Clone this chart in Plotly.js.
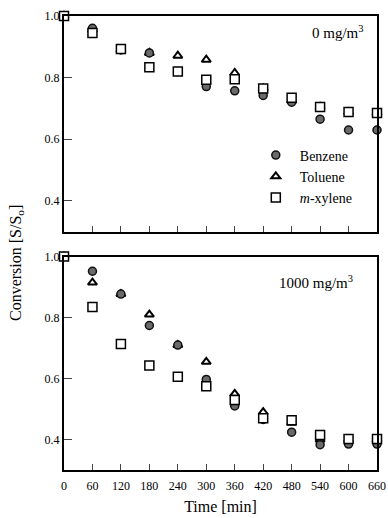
<!DOCTYPE html>
<html><head><meta charset="utf-8">
<script src="https://cdn.plot.ly/plotly-3.0.1.min.js"></script>
<style>body{margin:0;background:#fff}#c{width:388px;height:518px}</style>
</head><body><div id="c"></div>
<script>
const time = [0, 60, 120, 180, 240, 300, 360, 420, 480, 540, 600, 660];
// 0 mg/m3 panel
const benzene0 = [1.0, 0.96, 0.89, 0.88, 0.82, 0.771, 0.757, 0.742, 0.72, 0.665, 0.63, 0.63];
const toluene0 = [1.0, 0.955, 0.89, 0.88, 0.871, 0.858, 0.815, 0.765, 0.725, 0.705, 0.688, 0.685];
const xylene0  = [1.0, 0.945, 0.893, 0.834, 0.82, 0.793, 0.795, 0.765, 0.735, 0.705, 0.688, 0.685];
// 1000 mg/m3 panel
const benzene1 = [1.0, 0.952, 0.877, 0.774, 0.71, 0.597, 0.51, 0.466, 0.424, 0.383, 0.385, 0.385];
const toluene1 = [1.0, 0.915, 0.877, 0.81, 0.71, 0.655, 0.55, 0.49, 0.455, 0.40, 0.40, 0.40];
const xylene1  = [1.0, 0.835, 0.713, 0.643, 0.606, 0.575, 0.53, 0.47, 0.463, 0.415, 0.402, 0.402];
const names = ['Benzene', 'Toluene', '<i>m</i>-xylene'];
const yTicks = [0.4, 0.6, 0.8, 1.0];
const xTicks = [0, 60, 120, 180, 240, 300, 360, 420, 480, 540, 600, 660];

const font = 'Liberation Serif, Times New Roman, serif';
const mk = [
  {symbol:'circle', size:8, color:'#6a6a6a', line:{color:'#111', width:1.5}},
  {symbol:'triangle-up', size:8, color:'#fff', line:{color:'#000', width:2}},
  {symbol:'square', size:9, color:'#fff', line:{color:'#000', width:1.5}}
];
function tr(x, y, i, ax, show){
  return {x:x, y:y, type:'scatter', mode:'markers', name:names[i], marker:mk[i],
    xaxis:ax[0], yaxis:ax[1], showlegend:show, cliponaxis:false};
}
const data = [
  tr(time, toluene0, 1, ['x','y'], false),
  tr(time, benzene0, 0, ['x','y'], false),
  tr(time, xylene0, 2, ['x','y'], false),
  tr(time, toluene1, 1, ['x2','y2'], false),
  tr(time, benzene1, 0, ['x2','y2'], false),
  tr(time, xylene1, 2, ['x2','y2'], false),
  // legend entries
  {x:[null], y:[null], type:'scatter', mode:'markers', name:names[0], marker:mk[0], showlegend:true},
  {x:[null], y:[null], type:'scatter', mode:'markers', name:names[1], marker:mk[1], showlegend:true},
  {x:[null], y:[null], type:'scatter', mode:'markers', name:names[2], marker:mk[2], showlegend:true}
];
const xBase = {range:[0,660], tickvals:xTicks, ticks:'inside', ticklen:6, tickwidth:1,
  showline:true, linewidth:2, linecolor:'#000', mirror:true, showgrid:false, zeroline:false,
  tickfont:{family:font, size:12, color:'#000'}, fixedrange:true};
const yBase = {range:[0.3,1.0], tickvals:yTicks, ticktext:['0.4','0.6','0.8','1.0'], ticks:'inside', ticklen:8, tickwidth:1,
  showline:true, linewidth:2, linecolor:'#000', mirror:true, showgrid:false, zeroline:false,
  tickfont:{family:font, size:12, color:'#000'}};
const layout = {
  width:388, height:518, margin:{l:64, r:11, t:16, b:48},
  paper_bgcolor:'#fff', plot_bgcolor:'#fff', font:{family:font, color:'#000'},
  xaxis: Object.assign({}, xBase, {anchor:'y', showticklabels:false}),
  yaxis: Object.assign({}, yBase, {domain:[0.525, 1], anchor:'x'}),
  xaxis2: Object.assign({}, xBase, {anchor:'y2', ticklabelstandoff:4,
    title:{text:'Time [min]', font:{family:font, size:16}, standoff:8}}),
  yaxis2: Object.assign({}, yBase, {domain:[0, 0.47], anchor:'x2'}),
  legend:{x:0.6, y:0.728, xanchor:'left', yanchor:'top', font:{family:font, size:14}, bgcolor:'rgba(0,0,0,0)', itemwidth:38, tracegroupgap:0},
  showlegend:true,
  annotations:[
    {text:'0 mg/m<sup>3</sup>', xref:'paper', yref:'paper', x:0.965, y:0.965, xanchor:'right', yanchor:'middle', showarrow:false, font:{family:font, size:15}},
    {text:'1000 mg/m<sup>3</sup>', xref:'paper', yref:'paper', x:0.93, y:0.415, xanchor:'right', yanchor:'middle', showarrow:false, font:{family:font, size:15}},
    {text:'Conversion [S/S<sub>o</sub>]', xref:'paper', yref:'paper', x:-0.15, y:0.456, textangle:-90, xanchor:'center', yanchor:'middle', showarrow:false, font:{family:font, size:16}}
  ]
};
Plotly.newPlot('c', data, layout, {displayModeBar:false, staticPlot:true});
</script></body></html>
